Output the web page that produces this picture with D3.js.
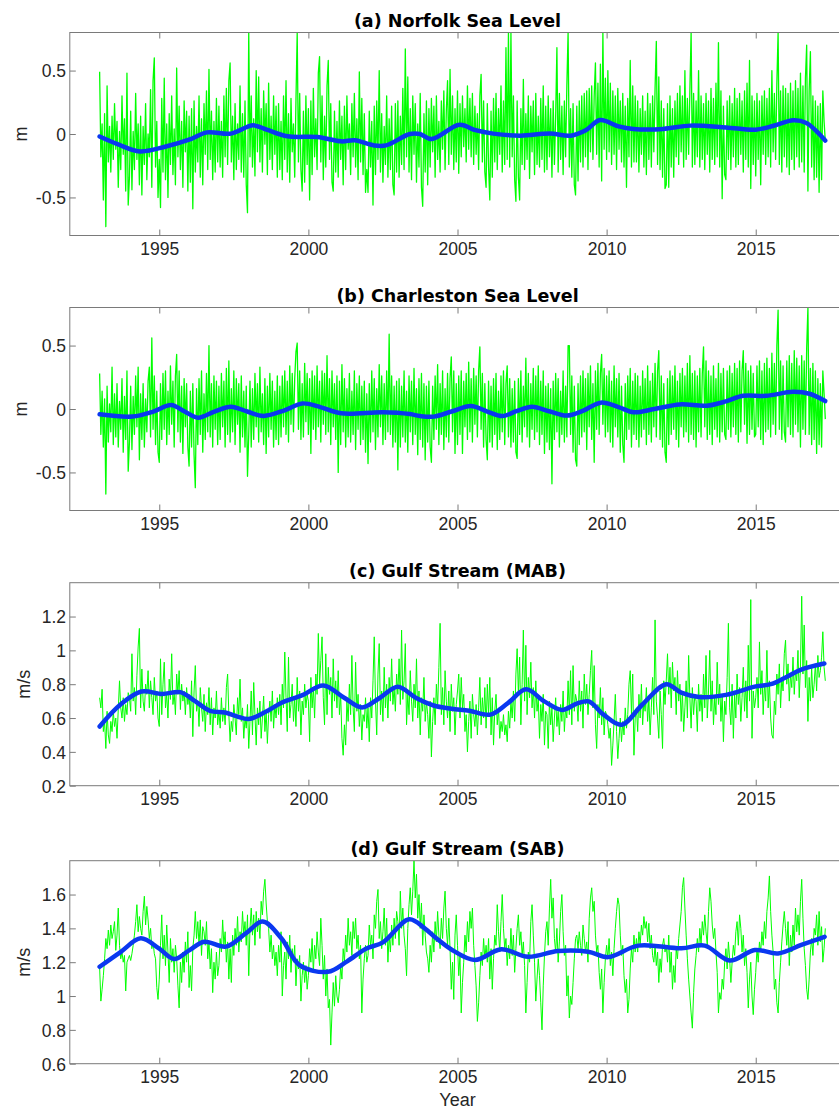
<!DOCTYPE html>
<html>
<head>
<meta charset="utf-8">
<script src="https://cdn.jsdelivr.net/npm/d3@7"></script>
<style>
  html, body { margin: 0; padding: 0; background: #fff; }
  svg { display: block; }
</style>
</head>
<body>
<svg id="fig" width="839" height="1109"></svg>
<script>
// ---- tick values -------------------------------------------------------
const yearTicks = [1995, 2000, 2005, 2010, 2015];
const seaLevelTicks = [-0.5, 0, 0.5];
const mabTicks = [0.2, 0.4, 0.6, 0.8, 1, 1.2];
const sabTicks = [0.6, 0.8, 1, 1.2, 1.4, 1.6];

// ---- series sampling: 24 samples per year starting at 1993.0 ------------
const seriesStart = 1993;
const samplesPerYear = 24;

// Norfolk sea level anomaly (cm), one row per year
const norfolkCm = [
  49,-18,8,-52,16,-73,38,-22,6,-30,14,-20,24,-12,10,-42,2,-28,30,-16,12,-45,48,-56,
  -34,18,-44,2,-28,32,-20,8,-40,14,-48,6,-24,24,-36,0,-18,35,-42,42,60,-26,10,-50,
  -20,-58,28,-30,44,-36,8,-50,16,-24,30,-32,4,-40,52,-18,22,-28,10,-42,26,-14,18,-45,
  14,-38,20,-59,26,-30,6,-22,30,-34,12,-40,24,-16,34,-28,51,-20,18,-36,10,-30,28,-22,
  22,-26,10,-34,30,-18,36,-24,42,56,-22,14,-36,24,-28,8,-20,38,-30,16,-34,26,-40,-62,
  80,-18,30,-26,12,-33,50,-14,45,-22,20,-30,34,-8,24,-32,40,-20,14,-28,30,-16,22,-34,
  24,-28,10,-36,30,-20,42,-30,16,-38,28,-14,8,-34,26,80,-22,32,-28,-45,18,-38,30,-24,
  20,-52,26,-32,36,-18,12,-28,48,61,-22,30,-36,14,-26,38,58,-20,24,-38,-45,18,-30,10,
  -34,26,-20,14,-40,22,-28,30,-12,8,-32,24,-18,32,-26,12,-36,49,-22,28,-32,16,-46,-28,
  -46,18,-26,10,-56,22,-32,26,-20,50,-30,16,-38,6,-24,30,-34,12,-28,22,-40,-48,24,-30,
  26,-34,14,-24,36,-28,67,-18,45,-30,20,-36,30,-16,24,-38,8,-26,32,-42,-57,16,-30,26,
  -40,20,-26,28,-14,22,-34,30,-20,10,-30,26,-12,34,-28,18,42,-24,51,-16,30,-28,20,-22,
  34,-31,24,-18,30,-10,20,-22,38,-12,28,-18,32,-24,22,-16,16,-28,30,47,-22,26,-30,-42,
  24,-26,-52,18,-34,28,-22,32,-28,20,-16,38,-30,26,-24,68,-20,80,-26,80,-18,30,-36,-53,
  26,-34,-52,20,-24,43,-28,16,-20,30,-35,22,-14,26,-32,32,-24,14,-26,28,-20,38,-30,22,
  -28,30,-18,20,-34,26,-24,14,68,-30,32,-20,22,-32,26,-18,38,80,-26,20,-34,24,-40,-48,
  22,-37,26,-22,30,-26,32,-18,34,-28,36,-14,38,-20,30,56,-16,40,-26,55,-37,80,-12,44,
  -20,50,-14,40,-24,34,-16,30,-28,36,-12,26,-22,32,-26,22,-42,28,-18,58,-26,38,-22,30,
  -22,26,-30,20,-16,30,-26,18,-32,32,-20,24,-26,30,-14,36,73,-24,45,-28,26,-34,20,-43,
  -40,24,-42,30,-26,20,-34,26,-18,32,-24,38,-14,30,-26,50,-20,28,-16,34,80,-26,32,-24,
  26,-18,50,-26,30,-20,24,-28,32,-16,26,-30,36,-20,28,-24,40,-18,72,-26,34,-51,22,-32,
  -36,26,-20,30,-28,24,-18,36,-26,28,-24,32,-16,26,-30,34,-20,40,-26,58,-43,30,-24,26,
  -33,32,-20,26,-40,30,-16,34,-24,28,-18,36,-26,50,-14,32,-20,40,80,-24,34,-30,38,-18,
  36,-26,32,-32,40,-20,34,-28,42,-18,36,-26,48,-22,38,-30,44,70,-45,34,65,-26,30,-36,
  26,-34,22,-46,24,-36,34,10,-6
];

// Charleston sea level anomaly (cm), one row per year
const charlestonCm = [
  28,-20,14,-30,8,-67,18,-26,4,-18,33,-28,12,-22,20,-30,6,-16,24,-34,10,-24,30,-49,
  -26,18,-32,10,-20,26,-14,33,-40,12,-24,20,-30,8,-18,22,33,-22,56,-16,26,-28,14,-34,
  -42,20,-24,28,-16,30,-28,14,-20,34,-12,22,-30,26,43,-18,30,-26,18,-35,24,-14,20,-30,
  -45,14,-30,20,-36,-62,16,-28,24,-20,30,-34,12,-24,28,-18,50,-22,20,-30,26,-16,22,-28,
  18,-24,28,-14,22,-30,32,-20,38,-26,16,-18,30,-28,24,-12,20,-34,26,-22,14,-30,18,-53,
  -20,22,-30,16,-24,28,-14,20,-26,33,-18,12,-28,24,-35,18,-22,28,-16,22,-30,14,-24,26,
  -28,18,-22,26,-14,30,-20,22,-26,34,-12,28,-18,24,45,52,-16,30,-24,20,-22,36,-10,28,
  -20,24,-35,30,-16,26,-24,34,-14,22,-26,30,-12,28,-20,42,-18,24,-28,30,-14,20,-24,26,
  -50,22,-28,35,-18,24,-30,16,-22,28,-26,14,-20,30,-32,20,-16,26,-28,18,-24,22,-34,12,
  -43,20,-26,30,-18,24,-32,16,-22,35,-14,26,-28,20,-24,30,-18,59,-20,26,-30,18,-26,22,
  -48,24,-30,18,-22,30,-26,14,-34,26,-18,22,-28,32,-20,16,-36,24,-24,28,-30,20,-40,18,
  -26,22,-30,-42,18,-24,26,-16,35,-28,20,-20,30,-32,16,-22,28,-26,24,41,-18,30,-35,20,
  -28,26,-20,30,-35,22,-14,28,-24,37,-18,24,-26,32,-12,26,-22,30,49,-16,28,-30,20,-24,
  -40,22,-26,18,-30,24,-20,28,-32,14,-24,26,-18,30,-28,20,34,-22,24,-30,16,-26,22,-34,
  -39,24,-20,30,-26,18,-14,40,-22,28,-30,20,-16,32,-24,26,-18,34,-28,22,-20,30,-35,18,
  -26,20,-32,16,-59,22,-24,28,-18,24,-30,14,-20,30,-26,18,-22,50,50,-20,26,-34,18,-40,
  -45,20,-28,26,-22,30,-18,24,-32,28,-14,34,-24,20,-42,30,-16,36,-20,28,43,-12,32,-22,
  26,-18,30,-26,22,-30,34,-14,24,-22,28,-34,18,-28,-42,20,-24,26,-16,32,-30,22,-20,28,
  -24,26,-30,18,-22,30,-16,24,-28,34,-20,22,-26,28,-14,36,-22,30,46,-24,26,-30,20,-34,
  -42,24,-28,30,-20,26,-16,34,-24,22,-30,28,-14,32,-22,26,-18,36,-26,42,-20,28,-24,30,
  -30,26,-18,32,-22,28,49,-14,38,-24,30,-20,26,-28,34,-16,24,-22,36,-26,28,-18,32,-20,
  -24,30,-16,34,-22,28,-14,36,-20,32,-26,38,-18,30,46,-12,36,-27,30,-20,34,-16,28,-22,
  -20,34,-14,38,-24,30,-28,36,-18,40,-16,32,-22,44,-12,36,-20,50,78,-16,38,-24,34,-18,
  -26,38,-14,42,-20,36,-22,46,-12,40,-18,34,-30,42,-16,38,-20,48,80,-20,32,-28,36,-24,
  30,-35,24,-28,20,-30,30,12,-8
];

// Gulf Stream speed, Mid-Atlantic Bight (cm/s), one row per year
const mabCmPerS = [
  72,66,77,52,58,42,64,50,45,58,52,64,55,60,48,65,82,66,60,72,58,68,62,75,
  72,64,98,70,78,62,85,102,113,66,89,70,64,80,74,88,66,82,72,62,84,70,76,60,
  55,95,62,80,93,66,74,60,83,71,98,68,75,62,86,74,88,65,80,70,76,62,78,68,
  74,60,82,49,76,91,64,70,55,78,66,58,74,52,69,62,78,56,72,50,66,60,76,56,
  64,54,72,58,66,56,78,86,62,46,58,52,68,60,50,72,62,83,58,66,48,60,54,68,
  42,58,76,50,81,62,44,66,56,70,48,60,73,52,64,45,62,70,58,76,54,68,60,72,
  62,74,56,80,66,99,72,52,96,60,68,80,58,72,55,84,64,76,50,70,62,80,66,74,
  70,46,84,66,78,60,86,74,110,80,94,108,72,56,98,62,90,74,84,60,95,70,82,66,
  88,62,74,48,38,56,44,70,58,80,62,97,66,52,93,64,74,55,68,47,62,58,72,54,
  66,46,72,60,82,108,70,50,86,104,62,76,58,90,66,80,60,84,70,95,68,78,64,86,
  74,95,68,112,71,82,104,56,74,62,88,70,58,80,66,95,60,76,50,72,64,84,58,70,
  62,48,70,37,58,72,56,80,66,90,116,62,78,56,88,70,60,76,52,80,64,72,50,68,
  76,86,60,84,66,74,52,62,40,58,70,48,74,62,55,68,50,66,84,56,72,60,78,54,
  80,62,84,50,72,44,64,74,56,66,48,58,52,62,50,56,46,64,54,70,60,76,58,86,
  101,74,96,56,80,112,70,103,62,84,72,93,66,78,60,82,64,72,48,68,58,74,44,64,
  62,42,70,56,66,46,60,72,55,64,50,68,58,76,52,66,60,82,62,88,56,91,64,74,
  70,58,82,64,76,54,86,68,80,62,74,88,100,66,91,56,42,68,60,78,56,72,50,64,
  62,56,48,54,32,44,58,74,52,36,48,60,46,58,50,66,54,62,80,88,62,86,38,60,
  66,52,74,60,80,56,70,64,78,58,72,50,66,84,62,118,70,60,48,76,62,42,82,68,
  82,98,74,90,66,93,76,84,62,88,70,80,58,76,52,66,82,60,97,72,54,78,62,74,
  70,52,80,64,74,58,86,66,97,60,76,100,64,82,56,72,62,93,68,80,58,74,46,70,
  62,84,116,66,56,80,48,74,60,86,68,78,58,72,90,64,82,60,103,70,130,48,76,66,
  72,84,66,105,74,88,62,80,70,100,66,82,60,50,48,70,62,86,74,92,66,84,76,98,
  106,80,92,70,86,78,96,74,88,82,100,72,90,132,86,115,78,94,58,84,70,90,72,80,
  92,76,97,84,88,96,111,90,82
];

// Gulf Stream speed, South Atlantic Bight (cm/s), one row per year
const sabCmPerS = [
  117,97,104,112,122,134,128,139,130,142,134,138,144,127,136,152,130,122,126,120,124,103,120,122,
  124,121,125,130,136,144,154,138,147,140,136,150,159,142,153,145,134,140,128,132,125,122,105,98,
  110,130,148,122,136,118,142,126,108,134,120,128,114,130,122,106,93,120,108,126,114,132,120,138,
  105,118,103,128,136,150,134,144,130,145,124,141,138,130,144,122,132,116,128,102,120,110,126,112,
  118,134,126,145,130,138,120,132,110,128,108,136,124,140,130,147,126,138,132,150,136,144,130,148,
  112,140,152,136,148,130,150,138,146,134,156,148,162,169,155,144,140,126,136,122,130,118,126,112,
  130,120,138,100,118,126,110,132,122,136,114,128,120,130,106,122,116,124,97,112,120,108,118,104,
  112,128,120,134,114,130,122,138,126,118,146,130,110,124,100,116,93,98,71,90,108,94,112,100,
  96,104,118,110,128,120,136,126,146,130,138,124,144,134,146,128,136,122,130,90,110,122,130,120,
  124,142,130,136,122,148,140,156,163,134,144,128,138,152,130,146,120,136,126,142,130,146,134,150,
  144,130,162,140,152,136,128,112,140,154,164,148,162,180,158,172,146,160,140,155,130,148,136,126,
  122,114,130,120,138,126,144,132,150,136,128,146,134,152,162,140,130,146,128,104,120,98,136,148,
  130,112,124,90,108,120,136,126,144,132,150,140,152,130,118,106,85,96,112,126,118,134,122,130,
  120,134,110,128,104,122,136,130,154,138,126,144,160,140,128,134,118,130,122,140,124,136,114,128,
  140,148,130,138,124,132,118,90,108,126,120,144,154,136,120,97,110,122,112,96,80,106,124,138,
  144,130,152,169,146,158,134,126,140,120,132,150,160,138,124,130,100,112,87,100,95,108,122,134,
  136,128,138,130,124,142,134,126,132,120,146,158,164,150,156,136,126,130,114,104,116,90,108,122,
  130,122,134,118,126,112,128,140,150,158,154,136,124,130,112,102,110,90,98,116,128,120,136,126,
  134,126,138,130,142,136,147,140,144,132,143,128,136,124,120,130,118,126,108,122,114,130,134,126,
  130,120,136,114,126,104,118,108,128,122,134,142,150,164,170,152,136,122,110,100,90,81,102,116,
  124,134,126,140,130,144,136,148,138,130,150,164,156,142,134,140,126,114,90,102,98,110,104,120,
  128,116,132,122,108,120,130,124,138,144,130,148,140,126,136,118,128,114,93,110,120,100,89,104,
  114,128,120,132,126,138,130,144,134,150,158,171,150,136,126,104,110,96,90,108,120,132,142,150,
  140,130,144,118,136,126,142,130,152,138,148,136,156,169,146,128,118,104,98,110,126,134,124,140,
  136,148,130,150,132,141,120,128,140
];

// Low-pass trends, [year, value] in cm or cm/s
const norfolkTrendCm = [
  [1993.0,-2],[1993.6,-8],[1994.35,-13.7],[1995.25,-9.7],[1996.0,-4.5],[1996.6,1.3],
  [1997.4,0.3],[1998.15,6.8],[1998.6,3.4],[1999.3,-1.8],[2000.3,-2.4],[2001.1,-5.8],
  [2001.55,-5],[2002.2,-9],[2002.6,-9],[2003.4,0],[2003.74,0],[2004.13,-4],[2005.07,7.3],
  [2005.6,3],[2006.2,0.3],[2007.1,-1.3],[2008.1,0.3],[2008.8,-1.3],[2009.3,3],[2009.78,11],
  [2010.4,6],[2010.9,4],[2011.9,4],[2012.8,6.6],[2014.0,5.2],[2015.0,3.4],[2015.6,6.5],
  [2016.26,10.8],[2016.7,8.7],[2017.0,3],[2017.33,-5.2]
];
const charlestonTrendCm = [
  [1993.0,-4.2],[1994.1,-6],[1994.8,-2],[1995.4,3.1],[1995.85,-2],[1996.3,-6.8],
  [1996.85,-2],[1997.4,1.8],[1997.95,-2],[1998.5,-5.5],[1999.2,-1],[1999.8,4.4],
  [2000.4,1.5],[2001.1,-3.4],[2002.5,-2.6],[2003.4,-4],[2003.74,-5.5],[2004.2,-6],
  [2004.8,-2],[2005.45,2.3],[2006.0,-2],[2006.5,-5.5],[2007.0,-1.5],[2007.5,1.8],
  [2008.1,-2],[2008.66,-5.2],[2009.2,-1.5],[2009.8,5],[2010.4,1.5],[2010.9,-2.6],
  [2011.6,0],[2012.45,3.6],[2013.35,2.6],[2014.0,6],[2014.57,10.4],[2015.35,10.4],
  [2016.25,13.5],[2016.8,12],[2017.33,6.25]
];
const mabTrendCmPerS = [
  [1993.0,55],[1993.7,68],[1994.4,75.7],[1995.1,74.2],[1995.7,75.3],[1996.2,70],
  [1996.7,64.3],[1997.2,63.3],[1997.6,61],[1998.0,59.4],[1998.6,64],[1999.1,69],
  [1999.8,73.5],[2000.5,79.3],[2001.2,72],[2001.8,66.3],[2002.4,72],[2003.0,78.5],
  [2003.6,72],[2004.2,67.4],[2004.8,65.5],[2005.4,64.3],[2006.1,62],[2006.7,69],
  [2007.3,77],[2007.9,70],[2008.5,64.8],[2009.0,68.5],[2009.4,69.8],[2009.9,62],
  [2010.5,56],[2011.2,68],[2012.0,80],[2012.5,75],[2013.1,72.4],[2014.0,73.7],
  [2015.0,78.7],[2015.5,80],[2016.0,84],[2016.5,88.5],[2017.3,92.2]
];
const sabTrendCmPerS = [
  [1993.0,117.3],[1993.7,126],[1994.38,134.1],[1995.0,128],[1995.5,121.9],[1996.0,127],
  [1996.51,132.1],[1997.24,129.2],[1997.9,137],[1998.47,144],[1999.1,134],[1999.7,118.3],
  [2000.65,114.3],[2001.3,120.5],[2001.93,128],[2002.5,131.7],[2003.38,145.4],[2003.9,140],
  [2004.3,134],[2004.82,127.2],[2005.58,121.3],[2006.47,127.6],[2007.37,123.2],
  [2008.37,126.6],[2009.38,126.2],[2010.05,123],[2011.06,129.8],[2012.51,128.2],
  [2013.29,129.8],[2014.13,121],[2014.97,127.2],[2015.75,125.2],[2016.53,130.2],[2017.31,135]
];

// ---- layout ----------------------------------------------------------------
const svg = d3.select("#fig");
const plotLeft = 69.8, plotRight = 845.2, plotH = 203;
const tickLen = 6;
const axisColor = "#7a7a7a";
const textColor = "#262626";
const labelFont = "'Liberation Sans', Arial, Helvetica, sans-serif";
const titleFont = "'DejaVu Sans', Verdana, sans-serif";
const greenColor = "#00ff00";
const blueColor = "#0a38f0";

const x = d3.scaleLinear().domain([1992, 2018]).range([plotLeft, plotRight]);

const panels = [
  { id: "a", title: "(a) Norfolk Sea Level", unit: "m", raw: norfolkCm, trend: norfolkTrendCm,
    domain: [-0.8, 0.8], ticks: seaLevelTicks, top: 32.5, labelX: 26.5, rawWidth: 1.3 },
  { id: "b", title: "(b) Charleston Sea Level", unit: "m", raw: charlestonCm, trend: charlestonTrendCm,
    domain: [-0.8, 0.8], ticks: seaLevelTicks, top: 307.5, labelX: 26.5, rawWidth: 1.3 },
  { id: "c", title: "(c) Gulf Stream (MAB)", unit: "m/s", raw: mabCmPerS, trend: mabTrendCmPerS,
    domain: [0.2, 1.4], ticks: mabTicks, top: 582.7, labelX: 29.5, rawWidth: 1 },
  { id: "d", title: "(d) Gulf Stream (SAB)", unit: "m/s", raw: sabCmPerS, trend: sabTrendCmPerS,
    domain: [0.6, 1.8], ticks: sabTicks, top: 860.7, labelX: 29.5, rawWidth: 1 }
];

const defs = svg.append("defs");

panels.forEach(p => {
  const y = d3.scaleLinear().domain(p.domain).range([p.top + plotH, p.top]);
  const g = svg.append("g").attr("class", "panel-" + p.id);

  defs.append("clipPath").attr("id", "clip-" + p.id)
    .append("rect")
    .attr("x", plotLeft).attr("y", p.top)
    .attr("width", plotRight - plotLeft).attr("height", plotH);

  const samples = p.raw.map((v, i) => [seriesStart + i / samplesPerYear, v]);

  const rawLine = d3.line()
    .x(d => x(d[0]))
    .y(d => y(d[1] / 100));

  const trendLine = d3.line()
    .x(d => x(d[0]))
    .y(d => y(d[1] / 100))
    .curve(d3.curveCatmullRom.alpha(0.5));

  const plot = g.append("g").attr("clip-path", "url(#clip-" + p.id + ")");
  plot.append("path")
    .attr("d", rawLine(samples))
    .attr("fill", "none")
    .attr("stroke", greenColor)
    .attr("stroke-width", p.rawWidth)
    .attr("stroke-linejoin", "round");
  plot.append("path")
    .attr("d", trendLine(p.trend))
    .attr("fill", "none")
    .attr("stroke", blueColor)
    .attr("stroke-width", 4.5)
    .attr("stroke-linejoin", "round")
    .attr("stroke-linecap", "round");

  // axes with inward ticks, mirrored on top and right
  const bottom = g.append("g")
    .attr("transform", `translate(0,${p.top + plotH})`)
    .call(d3.axisBottom(x).tickValues(yearTicks).tickFormat(String)
      .tickSizeInner(-tickLen).tickSizeOuter(0).tickPadding(7.2));
  const top = g.append("g")
    .attr("transform", `translate(0,${p.top})`)
    .call(d3.axisTop(x).tickValues(yearTicks).tickFormat("")
      .tickSizeInner(-tickLen).tickSizeOuter(0));
  const left = g.append("g")
    .attr("transform", `translate(${plotLeft},0)`)
    .call(d3.axisLeft(y).tickValues(p.ticks).tickFormat(String)
      .tickSizeInner(-tickLen).tickSizeOuter(0).tickPadding(3.8));
  const right = g.append("g")
    .attr("transform", `translate(${plotRight},0)`)
    .call(d3.axisRight(y).tickValues(p.ticks).tickFormat("")
      .tickSizeInner(-tickLen).tickSizeOuter(0));

  [bottom, top, left, right].forEach(ax => {
    ax.select(".domain").remove();
    ax.selectAll(".tick line").attr("stroke", axisColor).attr("stroke-width", 1);
    ax.selectAll(".tick text")
      .attr("fill", textColor)
      .style("font-family", labelFont)
      .style("font-size", "17.5px");
  });
  left.selectAll(".tick text").attr("dy", "0.36em");

  g.append("rect")
    .attr("x", plotLeft).attr("y", p.top)
    .attr("width", plotRight - plotLeft).attr("height", plotH)
    .attr("fill", "none")
    .attr("stroke", axisColor)
    .attr("stroke-width", 1);

  g.append("text")
    .attr("x", (plotLeft + plotRight) / 2)
    .attr("y", p.top - 6)
    .attr("text-anchor", "middle")
    .attr("fill", "#000")
    .style("font-family", titleFont)
    .style("font-weight", "bold")
    .style("font-size", "17.5px")
    .text(p.title);

  g.append("text")
    .attr("transform", `translate(${p.labelX},${p.top + plotH / 2}) rotate(-90)`)
    .attr("text-anchor", "middle")
    .attr("fill", textColor)
    .style("font-family", labelFont)
    .style("font-size", "18px")
    .text(p.unit);
});

svg.append("text")
  .attr("x", (plotLeft + plotRight) / 2)
  .attr("y", 1105.5)
  .attr("text-anchor", "middle")
  .attr("fill", textColor)
  .style("font-family", labelFont)
  .style("font-size", "18px")
  .text("Year");
</script>
</body>
</html>
